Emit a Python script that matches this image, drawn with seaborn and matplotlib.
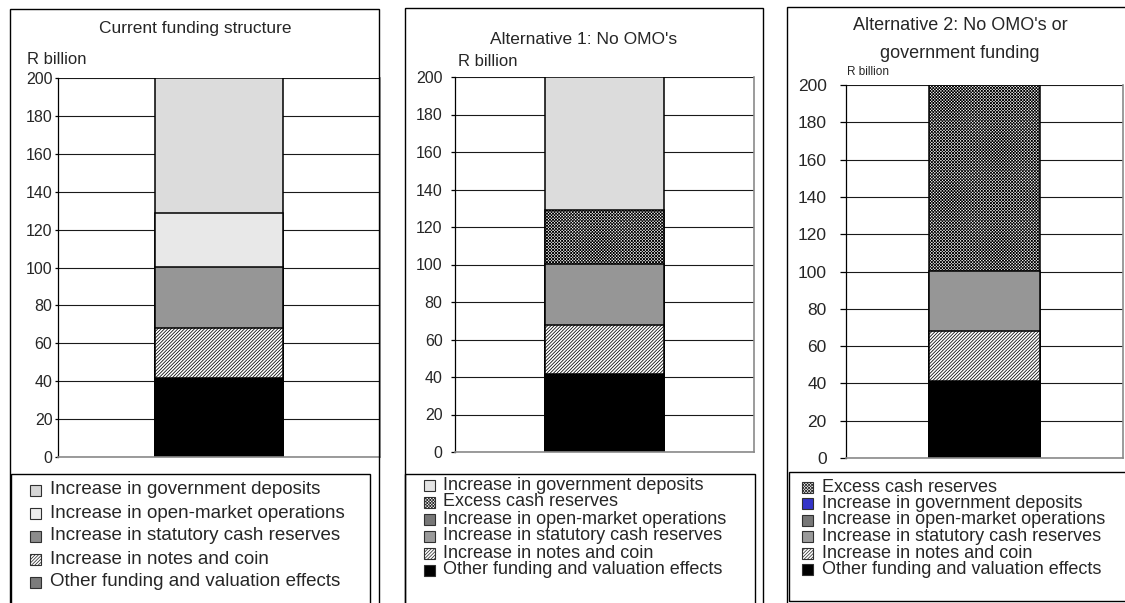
import numpy as np
import matplotlib
matplotlib.use("Agg")
import matplotlib.pyplot as plt
from matplotlib.patches import Rectangle
import seaborn as sns

# ---- data (R billion) ----
components = [
    "Other funding and valuation effects",
    "Increase in notes and coin",
    "Increase in statutory cash reserves",
    "Increase in open-market operations",
    "Excess cash reserves",
    "Increase in government deposits",
]
current_funding = [41.5, 26.5, 32.5, 28.5, 0.0, 71.0]
alt1_no_omo = [41.5, 26.5, 32.5, 0.0, 28.5, 71.0]
alt2_no_omo_or_gov = [41.5, 26.5, 32.5, 0.0, 99.5, 0.0]

panel_titles = [
    "Current funding structure",
    "Alternative 1: No OMO's",
    "Alternative 2: No OMO's or\ngovernment funding",
]
unit_label = "R billion"
y_ticks = [0, 20, 40, 60, 80, 100, 120, 140, 160, 180, 200]

key_current = [
    "Increase in government deposits",
    "Increase in open-market operations",
    "Increase in statutory cash reserves",
    "Increase in notes and coin",
    "Other funding and valuation effects",
]
key_alt1 = [
    "Increase in government deposits",
    "Excess cash reserves",
    "Increase in open-market operations",
    "Increase in statutory cash reserves",
    "Increase in notes and coin",
    "Other funding and valuation effects",
]
key_alt2 = [
    "Excess cash reserves",
    "Increase in government deposits",
    "Increase in open-market operations",
    "Increase in statutory cash reserves",
    "Increase in notes and coin",
    "Other funding and valuation effects",
]

# ---- styling ----
sns.set_style("white")
plt.rcParams["font.family"] = ["Liberation Sans", "DejaVu Sans"]
plt.rcParams["hatch.linewidth"] = 0.55

W, H = 1125, 603
fig = plt.figure(figsize=(W / 100, H / 100), dpi=100)
fig.patch.set_facecolor("white")

NOTES_HATCH = "/" * 10
EXCESS_HATCH = "x" * 11

bar_style = {
    "Other funding and valuation effects": dict(face="#000000", hatch=None),
    "Increase in notes and coin": dict(face="#ffffff", hatch=NOTES_HATCH),
    "Increase in statutory cash reserves": dict(face="#969696", hatch=None),
    "Increase in open-market operations": dict(face="#e8e8e8", hatch=None),
    "Excess cash reserves": dict(face="#ffffff", hatch=EXCESS_HATCH),
    "Increase in government deposits": dict(face="#dcdcdc", hatch=None),
}

key_style_current = {
    "Increase in government deposits": dict(face="#d6d6d6", hatch=None),
    "Increase in open-market operations": dict(face="#eeeeee", hatch=None),
    "Increase in statutory cash reserves": dict(face="#8c8c8c", hatch=None),
    "Increase in notes and coin": dict(face="#ffffff", hatch=NOTES_HATCH),
    "Other funding and valuation effects": dict(face="#7c7c7c", hatch=None),
}
key_style_alt = {
    "Increase in government deposits": dict(face="#e4e4e4", hatch=None),
    "Excess cash reserves": dict(face="#ffffff", hatch=EXCESS_HATCH),
    "Increase in open-market operations": dict(face="#777777", hatch=None),
    "Increase in statutory cash reserves": dict(face="#9a9a9a", hatch=None),
    "Increase in notes and coin": dict(face="#ffffff", hatch=NOTES_HATCH),
    "Other funding and valuation effects": dict(face="#000000", hatch=None),
}
key_style_alt2 = dict(key_style_alt)
key_style_alt2["Increase in government deposits"] = dict(face="#3434c8", hatch=None)


def fx(x):
    return x / W


def fy(y):
    return 1 - y / H


def frame(l, t, r, b, lw=1.0, color="black"):
    fig.add_artist(Rectangle((fx(l), fy(b)), (r - l) / W, (b - t) / H,
                             transform=fig.transFigure, fill=False,
                             edgecolor=color, linewidth=lw))


def stacked_bar(ax, values):
    cum = np.cumsum(values)
    # tallest cumulative total first, each lower total painted on top
    for i in reversed(range(len(values))):
        if values[i] <= 0:
            continue
        st = bar_style[components[i]]
        sns.barplot(x=["Total"], y=[cum[i]], color=st["face"], hatch=st["hatch"],
                    edgecolor="black", linewidth=1.1, width=0.4, saturation=1,
                    errorbar=None, ax=ax)


def style_axes(ax, tick_size, pad, tick_len):
    ax.set_ylim(0, 200)
    ax.set_xlim(-0.5, 0.5)
    ax.set_yticks(y_ticks)
    ax.set_xticks([])
    ax.set_xlabel("")
    ax.set_ylabel("")
    ax.yaxis.grid(True, color="#1a1a1a", linewidth=0.8)
    ax.set_axisbelow(True)
    ax.spines["top"].set_visible(False)
    ax.spines["right"].set_color("#8a8a8a")
    ax.spines["right"].set_linewidth(1.2)
    ax.spines["bottom"].set_color("#8a8a8a")
    ax.spines["bottom"].set_linewidth(1.2)
    ax.spines["left"].set_color("black")
    ax.spines["left"].set_linewidth(0.9)
    ax.tick_params(axis="y", direction="out", length=tick_len, width=0.9,
                   color="black", pad=pad, labelsize=tick_size, left=True)
    ax.set_facecolor("none")


def key(entries, styles, x_sw, y0, pitch, x_txt, size, sw=11):
    for i, name in enumerate(entries):
        yc = y0 + i * pitch
        st = styles[name]
        fig.add_artist(Rectangle((fx(x_sw), fy(yc + sw / 2)), sw / W, sw / H,
                                 transform=fig.transFigure, facecolor=st["face"],
                                 hatch=st["hatch"], edgecolor="#303030",
                                 linewidth=0.8))
        fig.text(fx(x_txt), fy(yc), name, ha="left", va="center", fontsize=size)


def axes_px(l, t, r, b):
    return fig.add_axes([fx(l), fy(b), (r - l) / W, (b - t) / H])


# ---- panel 1: current funding structure ----
ax1 = axes_px(58, 78, 380, 457)
stacked_bar(ax1, current_funding)
style_axes(ax1, 11.5, 1.5, 2.5)
frame(10, 9, 379, 610)
frame(11, 474, 370, 610)
fig.text(fx(195), fy(29), panel_titles[0], ha="center", va="center", fontsize=12.5)
fig.text(fx(27), fy(59), unit_label, ha="left", va="center", fontsize=12)
key(key_current, key_style_current, 30, 490, 23, 50, 13.5)

# ---- panel 2: no OMO's ----
ax2 = axes_px(455, 77, 754, 452)
stacked_bar(ax2, alt1_no_omo)
style_axes(ax2, 11.5, 6, 3)
frame(405, 8, 763, 610)
frame(405, 474, 755, 610)
fig.text(fx(584), fy(40), panel_titles[1], ha="center", va="center", fontsize=12.5)
fig.text(fx(458), fy(61), unit_label, ha="left", va="center", fontsize=12)
key(key_alt1, key_style_alt, 424, 485, 17, 443, 13)

# ---- panel 3: no OMO's or government funding ----
ax3 = axes_px(846, 85, 1123, 458)
stacked_bar(ax3, alt2_no_omo_or_gov)
style_axes(ax3, 12.5, 10, 4)
frame(787, 7, 1130, 610)
frame(789, 472, 1130, 601)
title_lines = panel_titles[2].split("\n")
fig.text(fx(960), fy(25), title_lines[0], ha="center", va="center", fontsize=13)
fig.text(fx(960), fy(53), title_lines[1], ha="center", va="center", fontsize=13)
fig.text(fx(847), fy(72), unit_label, ha="left", va="center", fontsize=8.5)
key(key_alt2, key_style_alt2, 802, 487, 16.5, 822, 13)

fig.savefig("out.png", dpi=100, facecolor="white")
